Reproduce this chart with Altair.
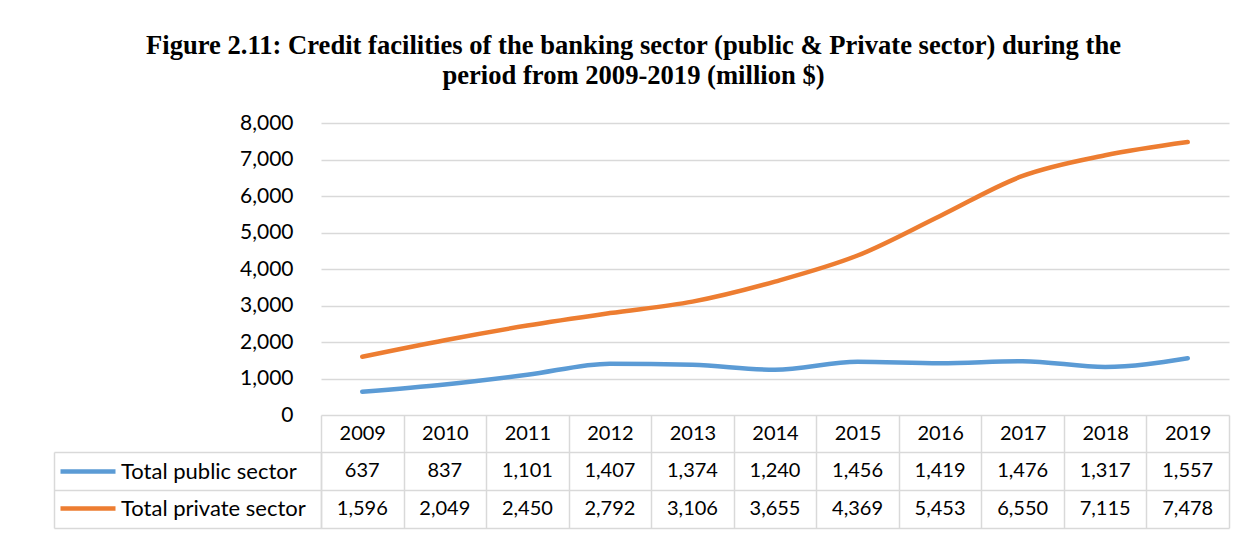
import altair as alt
import pandas as pd

# ---- data ----
years = ["2009", "2010", "2011", "2012", "2013", "2014", "2015", "2016", "2017", "2018", "2019"]
public_sector = [637, 837, 1101, 1407, 1374, 1240, 1456, 1419, 1476, 1317, 1557]
private_sector = [1596, 2049, 2450, 2792, 3106, 3655, 4369, 5453, 6550, 7115, 7478]
series_names = ["Total public sector", "Total private sector"]
series_colors = ["#5B9BD5", "#ED7D31"]
y_ticks = [0, 1000, 2000, 3000, 4000, 5000, 6000, 7000, 8000]
title_lines = [
    "Figure 2.11: Credit facilities of the banking sector (public & Private sector) during the",
    "period from 2009-2019 (million $)",
]

rows = []
for name, vals in zip(series_names, [public_sector, private_sector]):
    for yr, v in zip(years, vals):
        rows.append({"year": yr, "series": name, "value": v})
df = pd.DataFrame(rows)

FONT = "Lato"
FS = 20
AX_FS = 21
LEG_FS = 22
GRID = "#D9D9D9"
TXT = "#000000"

color_scale = alt.Scale(domain=series_names, range=series_colors)

lines = alt.Chart(df).mark_line(strokeWidth=4.5, interpolate="monotone", strokeCap="round").encode(
    x=alt.X("year:O", sort=years, scale=alt.Scale(padding=0.5), axis=None),
    y=alt.Y(
        "value:Q",
        scale=alt.Scale(domain=[0, 8000], nice=False),
        axis=alt.Axis(values=y_ticks, format=",.0f", domain=False, ticks=False, grid=True,
                      gridColor=GRID, gridWidth=1.5, labelFont=FONT, labelFontSize=AX_FS,
                      labelColor=TXT, labelPadding=28, title=None),
    ),
    color=alt.Color(
        "series:N", scale=color_scale,
        legend=alt.Legend(title=None, orient="none", legendX=-228, legendY=336,
                          direction="vertical", symbolType="M-4.5,0H1", symbolSize=400,
                          symbolStrokeWidth=4.5, labelFont=FONT, labelFontSize=LEG_FS,
                          labelColor=TXT, labelOffset=3, rowPadding=13, padding=0,
                          labelLimit=400),
    ),
).properties(width=908, height=292)

table_text = alt.Chart(df).mark_text(font=FONT, fontSize=FS, color=TXT).encode(
    x=alt.X("year:O", sort=years, scale=alt.Scale(paddingInner=0, paddingOuter=0),
            axis=alt.Axis(orient="top", tickBand="extent", tickSize=37, tickColor=GRID,
                          tickWidth=1.5, grid=True, gridColor=GRID, gridWidth=1.5,
                          domain=False, labelAngle=0, labelFont=FONT, labelFontSize=FS,
                          labelColor=TXT, labelPadding=-18.5, labelBaseline="middle",
                          title=None)),
    y=alt.Y("series:N", sort=series_names,
            scale=alt.Scale(domain=series_names, paddingInner=0, paddingOuter=0),
            axis=alt.Axis(tickBand="extent", tickSize=267, tickColor=GRID, tickWidth=1.5,
                          grid=True, gridColor=GRID, gridWidth=1.5, labels=False,
                          domain=True, domainColor=GRID, domainWidth=1.5, title=None)),
    text=alt.Text("value:Q", format=","),
)

table_edge = alt.Chart(df).mark_point(opacity=0).encode(
    x=alt.X("year:O", sort=years),
    y=alt.Y("series:N", sort=series_names,
            axis=alt.Axis(orient="left", offset=267, ticks=False, labels=False, grid=False,
                          domain=True, domainColor=GRID, domainWidth=1.5, title=None)),
)

table = alt.layer(table_text, table_edge).resolve_axis(y="independent").properties(
    width=908, height=76)

chart = alt.vconcat(lines, table, spacing=37, bounds="flush").properties(
    title=alt.Title(title_lines, font="Liberation Serif", fontSize=26.6, fontWeight="bold",
                    color=TXT, lineHeight=30.5, anchor="middle", offset=22, dx=-8),
    padding={"left": 45, "top": 24, "right": 10, "bottom": 5},
).configure_view(stroke=None)

chart.save("out.html", embed_options={"renderer": "svg", "actions": False})
